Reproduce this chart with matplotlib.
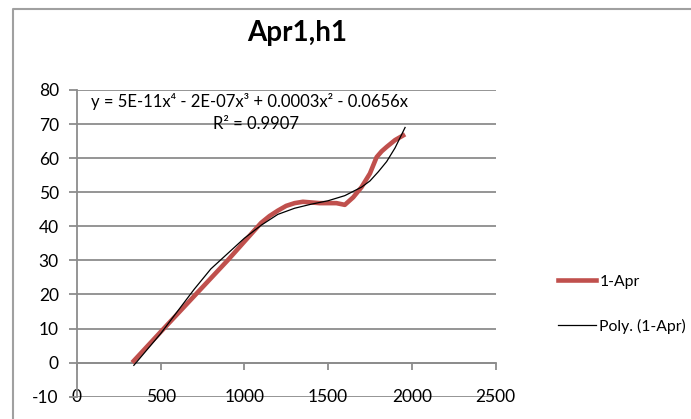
import numpy as np
import matplotlib.pyplot as plt
from matplotlib.lines import Line2D

# data
apr_x = [330, 500, 700, 900, 1100, 1150, 1200, 1250, 1300, 1350, 1450, 1550, 1600, 1650, 1700, 1750, 1790, 1820, 1850, 1900, 1960]
apr_y = [0, 9, 19.5, 30, 41, 43, 44.6, 46, 46.8, 47.2, 46.8, 46.8, 46.3, 48.5, 51.5, 55.5, 60.3, 62, 63.3, 65.3, 67]

poly_x = [340, 500, 600, 700, 800, 900, 1000, 1100, 1200, 1300, 1400, 1500, 1600, 1700, 1750, 1800, 1850, 1900, 1960]
poly_y = [-0.8, 8.5, 15, 21.5, 27.5, 32, 36.5, 40.3, 43.5, 45.3, 46.5, 47.5, 49, 51.5, 53.3, 56, 59, 63, 69]

x_ticks = [0, 500, 1000, 1500, 2000, 2500]
y_ticks = [-10, 0, 10, 20, 30, 40, 50, 60, 70, 80]

title = "Apr1,h1"
eq_text = "y = 5E-11x\u2074 - 2E-07x\u00b3 + 0.0003x\u00b2 - 0.0656x"
r2_text = "R\u00b2 = 0.9907"

plt.rcParams['font.family'] = ['Lato', 'DejaVu Sans']
plt.rcParams['axes.unicode_minus'] = False
grid_c = '#8c8c8c'

fig = plt.figure(figsize=(6.91, 4.19), dpi=100)
ax = fig.add_axes([76.9/691, 1-396.7/419, (495.5-76.9)/691, (396.7-90)/419])

for yv in y_ticks:
    ax.axhline(yv, color=grid_c, lw=1.3, zorder=0)

ax.plot(apr_x, apr_y, color='#C0504D', lw=3.3, solid_joinstyle='round', solid_capstyle='butt', label='1-Apr', zorder=3)
ax.plot(poly_x, poly_y, color='black', lw=0.9, label='Poly. (1-Apr)', zorder=4)

ax.set_xlim(0, 2500)
ax.set_ylim(-10, 80)

for s in ['top', 'right']:
    ax.spines[s].set_visible(False)
ax.spines['bottom'].set_position(('data', 0))
ax.spines['bottom'].set_color(grid_c)
ax.spines['left'].set_color(grid_c)
ax.spines['bottom'].set_linewidth(1.3)
ax.spines['left'].set_linewidth(1.3)

ax.set_xticks(x_ticks)
ax.set_xticklabels([])
ax.tick_params(axis='x', direction='out', length=5, color=grid_c, width=1.3)
ax.set_yticks(y_ticks)
ax.tick_params(axis='y', direction='out', length=6, color=grid_c, width=1.3, labelsize=12.5, pad=7)

for xv in x_ticks:
    ax.text(xv, -10, str(xv), ha='center', va='center', fontsize=12.5, zorder=1)

ax.text(85, 76.5, eq_text, fontsize=12, ha='left', va='center')
ax.text(815, 70, r2_text, fontsize=12, ha='left', va='center')

fig.text(297/691, 1-33/419, title, fontsize=20, fontweight='bold', ha='center', va='center')

handles = [Line2D([], [], color='#C0504D', lw=3.3), Line2D([], [], color='black', lw=0.9)]
fig.legend(handles, ['1-Apr', 'Poly. (1-Apr)'], loc='upper left', bbox_to_anchor=(550/691, 1-267/419),
           frameon=False, fontsize=11.3, labelspacing=1.9, handlelength=2.4, handletextpad=0.25, borderpad=0)

# chart area border
fig.add_artist(Line2D([12.5/691, 12.5/691, 1], [0, 1-9.5/419, 1-9.5/419], color='#a0a0a0', lw=1.5,
                      transform=fig.transFigure))

fig.savefig('out.png', dpi=100)
